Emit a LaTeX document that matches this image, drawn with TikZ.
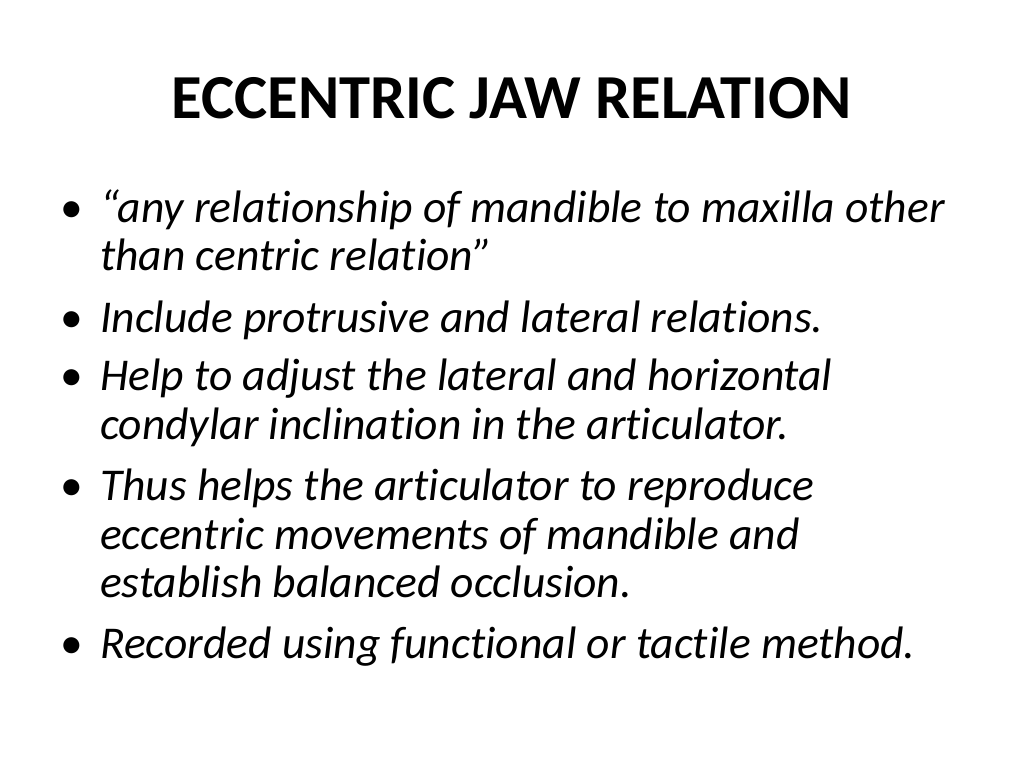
\documentclass[tikz,border=0pt]{standalone}
\usepackage{fontspec}
\setmainfont[Ligatures=NoCommon]{Carlito}
\begin{document}
\begin{tikzpicture}[x=1pt,y=-1pt,
  ln/.style={anchor=base west,inner sep=0pt,font=\fontsize{45.5}{45.5}\selectfont\itshape},
  bl/.style={anchor=base west,inner sep=0pt,font=\fontsize{45.5}{45.5}\selectfont}]
\useasboundingbox[fill=white] (0,0) rectangle (1024,768);
\node[anchor=base,inner sep=0pt,font=\fontsize{62.6}{62.6}\selectfont\bfseries] (title) at (512,118) {ECCENTRIC JAW RELATION};
\foreach \y/\t [count=\i] in {222/{``any relationship of mandible to maxilla other},270/{than centric relation''},332/{Include protrusive and lateral relations.},390/{Help to adjust the lateral and horizontal},439/{condylar inclination in the articulator.},500/{Thus helps the articulator to reproduce},549/{eccentric movements of mandible and},597/{establish balanced occlusion.},658/{Recorded using functional or tactile method.}}
  \node[ln] (l\i) at (100,\y) {\t};
\foreach \y [count=\i] in {222,332,390,500,658}
  \node[bl] (b\i) at (60,\y) {\char"2022};
\end{tikzpicture}
\end{document}
